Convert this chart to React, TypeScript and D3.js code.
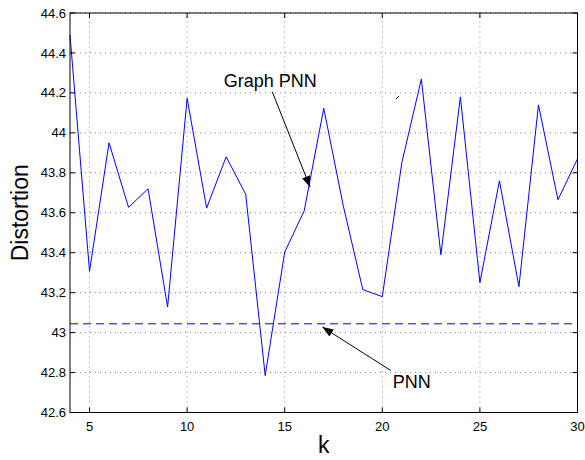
import React from "react";
import * as d3 from "d3";

// k values and measured distortion (Graph PNN), plus PNN reference level
const kValues = [4, 5, 6, 7, 8, 9, 10, 11, 12, 13, 14, 15, 16, 17, 18, 19, 20, 21, 22, 23, 24, 25, 26, 27, 28, 29, 30];
const graphPnn = [
  44.49, 43.307, 43.95, 43.627, 43.72, 43.128, 44.173, 43.623, 43.88, 43.693,
  42.785, 43.403, 43.61, 44.123, 43.635, 43.215, 43.18, 43.85, 44.27, 43.39,
  44.18, 43.25, 43.76, 43.23, 44.14, 43.665, 43.87,
];
const pnnLevel = 43.044;

const xTicks = [5, 10, 15, 20, 25, 30];
const yTicks = [42.6, 42.8, 43, 43.2, 43.4, 43.6, 43.8, 44, 44.2, 44.4, 44.6];

// annotations in data coordinates: [tailK, tailV, headK, headV]
const graphArrow = [14.36, 44.2065, 16.3, 43.7285];
const graphLabel = { text: "Graph PNN", k: 11.88, v: 44.2315 };
const pnnArrow = [20.44, 42.81, 16.93, 43.028];
const pnnLabel = { text: "PNN", k: 20.53, v: 42.7235 };
const strayMark = [20.7, 44.169, 20.85, 44.184];

const W = 585;
const H = 460;
const font = "'Liberation Sans', Arial, Helvetica, sans-serif";

export default function App() {
  const x = d3.scaleLinear().domain([4, 30]).range([70, 577.5]);
  const y = d3.scaleLinear().domain([42.6, 44.6]).range([412.5, 13]);
  const [x0, x1] = x.range();
  const [y0, y1] = y.range();

  const line = d3
    .line<number>()
    .x((_, i) => x(kValues[i]))
    .y((d) => y(d));

  const tick = 5;

  return (
    <svg
      width={W}
      height={H}
      style={{ position: "absolute", left: 0, top: 0, background: "#fff" }}
      fontFamily={font}
    >
      <defs>
        <marker
          id="ah"
          viewBox="0 0 10 10"
          refX="10"
          refY="5"
          markerWidth="11"
          markerHeight="11"
          markerUnits="userSpaceOnUse"
          orient="auto"
        >
          <path d="M0,1.2 L10,5 L0,8.8 Z" fill="#000" />
        </marker>
      </defs>
      <rect x={0} y={0} width={W} height={H} fill="#fff" />

      {/* grid */}
      {xTicks.map((t) => (
        <line key={"gx" + t} x1={x(t)} x2={x(t)} y1={y0} y2={y1} stroke="#8a8a8a" strokeWidth={1} strokeDasharray="1,4" />
      ))}
      {yTicks.map((t) => (
        <line key={"gy" + t} x1={x0} x2={x1} y1={y(t)} y2={y(t)} stroke="#8a8a8a" strokeWidth={1} strokeDasharray="1,4" />
      ))}

      {/* PNN level */}
      <line x1={x0} x2={x1} y1={y(pnnLevel)} y2={y(pnnLevel)} stroke="#0000ff" strokeWidth={1} strokeDasharray="8,5" />

      {/* Graph PNN series */}
      <path d={line(graphPnn) ?? ""} fill="none" stroke="#0000ff" strokeWidth={1} />

      {/* box and ticks */}
      <rect x={x0} y={y1} width={x1 - x0} height={y0 - y1} fill="none" stroke="#000" strokeWidth={1} />
      {xTicks.map((t) => (
        <g key={"tx" + t}>
          <line x1={x(t)} x2={x(t)} y1={y0} y2={y0 - tick} stroke="#000" />
          <line x1={x(t)} x2={x(t)} y1={y1} y2={y1 + tick} stroke="#000" />
          <text x={x(t)} y={431} fontSize={13} textAnchor="middle" fill="#000">
            {t}
          </text>
        </g>
      ))}
      {yTicks.map((t) => (
        <g key={"ty" + t}>
          <line x1={x0} x2={x0 + tick} y1={y(t)} y2={y(t)} stroke="#000" />
          <line x1={x1} x2={x1 - tick} y1={y(t)} y2={y(t)} stroke="#000" />
          <text x={x0 - 4} y={y(t)} dy="0.35em" fontSize={13} textAnchor="end" fill="#000">
            {d3.format("~g")(t)}
          </text>
        </g>
      ))}

      {/* axis labels */}
      <text x={(x0 + x1) / 2} y={453} fontSize={23} textAnchor="middle" fill="#000">
        k
      </text>
      <text
        transform={`translate(28,${(y0 + y1) / 2}) rotate(-90)`}
        fontSize={23}
        textAnchor="middle"
        fill="#000"
      >
        Distortion
      </text>

      {/* annotations */}
      <line
        x1={x(graphArrow[0])}
        y1={y(graphArrow[1])}
        x2={x(graphArrow[2])}
        y2={y(graphArrow[3])}
        stroke="#000"
        strokeWidth={1}
        markerEnd="url(#ah)"
      />
      <text x={x(graphLabel.k)} y={y(graphLabel.v)} fontSize={18} fill="#000">
        {graphLabel.text}
      </text>
      <line
        x1={x(pnnArrow[0])}
        y1={y(pnnArrow[1])}
        x2={x(pnnArrow[2])}
        y2={y(pnnArrow[3])}
        stroke="#000"
        strokeWidth={1}
        markerEnd="url(#ah)"
      />
      <text x={x(pnnLabel.k)} y={y(pnnLabel.v)} fontSize={18} fill="#000">
        {pnnLabel.text}
      </text>
      <line
        x1={x(strayMark[0])}
        y1={y(strayMark[1])}
        x2={x(strayMark[2])}
        y2={y(strayMark[3])}
        stroke="#000"
        strokeWidth={1}
      />
    </svg>
  );
}
